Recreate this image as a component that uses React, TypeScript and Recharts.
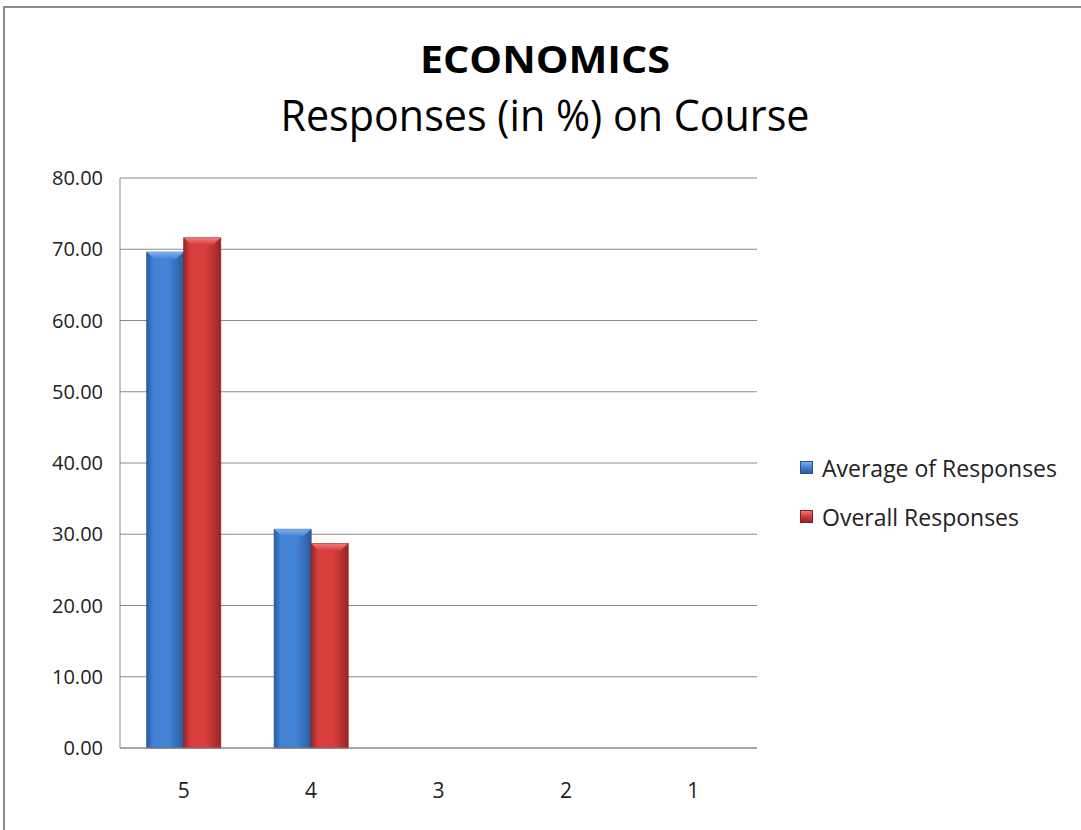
import React from 'react';
import { BarChart, Bar, XAxis, YAxis, CartesianGrid } from 'recharts';

// Rating categories and the two response series (percent)
const categories = ['5', '4', '3', '2', '1'];
const averageOfResponses = [69.6, 30.7, 0, 0, 0];
const overallResponses = [71.6, 28.7, 0, 0, 0];
const yTicks = [0, 10, 20, 30, 40, 50, 60, 70, 80];

const seriesNames = ['Average of Responses', 'Overall Responses'];

const data = categories.map((c, i) => ({
  category: c,
  average: averageOfResponses[i],
  overall: overallResponses[i],
}));

const FONT = '"Open Sans", "Noto Sans", sans-serif';

const palettes: Record<string, { edge: string; mid: string; top: string; line: string }> = {
  blue: { edge: '#2b5a9e', mid: '#4283d6', top: '#7fb0ec', line: '#24508f' },
  red: { edge: '#9a2626', mid: '#d83e3e', top: '#f07a7a', line: '#862020' },
};

// Bar with a soft bevelled look: horizontal shading plus a lighter top facet
const BevelBar = (props: any) => {
  const { x, y, width, height, tone } = props;
  if (!height || height <= 0) return null;
  const p = palettes[tone];
  const bevel = Math.min(7, height / 2);
  const inset = Math.min(8, width / 4);
  return (
    <g>
      <rect x={x} y={y} width={width} height={height} fill={`url(#grad-${tone})`} stroke={p.line} strokeWidth={0.8} />
      <polygon
        points={`${x},${y} ${x + width},${y} ${x + width - inset},${y + bevel} ${x + inset},${y + bevel}`}
        fill={`url(#top-${tone})`}
      />
    </g>
  );
};

const LegendBox = () => (
  <div style={{ fontFamily: FONT, fontSize: 23, color: '#222' }}>
    {seriesNames.map((name, i) => {
      const tone = i === 0 ? 'blue' : 'red';
      const p = palettes[tone];
      return (
        <div key={name} style={{ display: 'flex', alignItems: 'center', height: 49 }}>
          <span
            style={{
              display: 'inline-block',
              width: 11,
              height: 11,
              marginRight: 9,
              background: `linear-gradient(180deg, ${p.top} 0%, ${p.mid} 45%, ${p.edge} 100%)`,
              border: `1px solid ${p.line}`,
            }}
          />
          <span>{name}</span>
        </div>
      );
    })}
  </div>
);

export default function App() {
  return (
    <div
      style={{
        position: 'absolute',
        left: 0,
        top: 0,
        width: 1081,
        height: 830,
        overflow: 'hidden',
        background: '#fff',
      }}
    >
      <div
        style={{
          position: 'absolute',
          left: 3,
          top: 6,
          width: 1100,
          height: 850,
          borderLeft: '2px solid #8a8a8a',
          borderTop: '2px solid #8a8a8a',
        }}
      />
      <svg style={{ position: 'absolute', left: 0, top: 0 }} width={1081} height={180}>
        <text
          x={545}
          y={73}
          textAnchor="middle"
          fontFamily={FONT}
          fontWeight={700}
          fontSize={37}
          fill="#000"
          textLength={250}
          lengthAdjust="spacingAndGlyphs"
        >
          ECONOMICS
        </text>
        <text
          x={545}
          y={131}
          textAnchor="middle"
          fontFamily={FONT}
          fontSize={43}
          fill="#000"
          textLength={529}
          lengthAdjust="spacingAndGlyphs"
        >
          Responses (in %) on Course
        </text>
      </svg>
      <div style={{ position: 'absolute', left: 0, top: 0 }}>
        <BarChart
          width={1081}
          height={830}
          data={data}
          margin={{ top: 178, right: 324, bottom: 0, left: 0 }}
          barGap={0}
          barCategoryGap="21%"
        >
          <defs>
            {Object.entries(palettes).map(([tone, p]) => (
              <React.Fragment key={tone}>
                <linearGradient id={`grad-${tone}`} x1="0" y1="0" x2="1" y2="0">
                  <stop offset="0%" stopColor={p.edge} />
                  <stop offset="18%" stopColor={p.mid} />
                  <stop offset="60%" stopColor={p.mid} />
                  <stop offset="100%" stopColor={p.edge} />
                </linearGradient>
                <linearGradient id={`top-${tone}`} x1="0" y1="0" x2="0" y2="1">
                  <stop offset="0%" stopColor={p.top} />
                  <stop offset="100%" stopColor={p.mid} />
                </linearGradient>
              </React.Fragment>
            ))}
          </defs>
          <CartesianGrid vertical={false} stroke="#8a8a8a" strokeWidth={1} />
          <XAxis
            dataKey="category"
            height={82}
            tickLine={false}
            tickSize={0}
            tickMargin={35}
            axisLine={{ stroke: '#8a8a8a' }}
            tick={{ fontFamily: FONT, fontSize: 21, fill: '#222' }}
          />
          <YAxis
            width={120}
            domain={[0, 80]}
            ticks={yTicks}
            interval={0}
            tickFormatter={(v: number) => v.toFixed(2)}
            tickLine={false}
            tickSize={0}
            tickMargin={17}
            axisLine={{ stroke: '#8a8a8a' }}
            tick={{ fontFamily: FONT, fontSize: 20, fill: '#222' }}
          />
          <Bar
            dataKey="average"
            name={seriesNames[0]}
            isAnimationActive={false}
            shape={(p: any) => <BevelBar {...p} tone="blue" />}
          />
          <Bar
            dataKey="overall"
            name={seriesNames[1]}
            isAnimationActive={false}
            shape={(p: any) => <BevelBar {...p} tone="red" />}
          />
        </BarChart>
      </div>
      <div style={{ position: 'absolute', left: 800, top: 443 }}>
        <LegendBox />
      </div>
    </div>
  );
}
